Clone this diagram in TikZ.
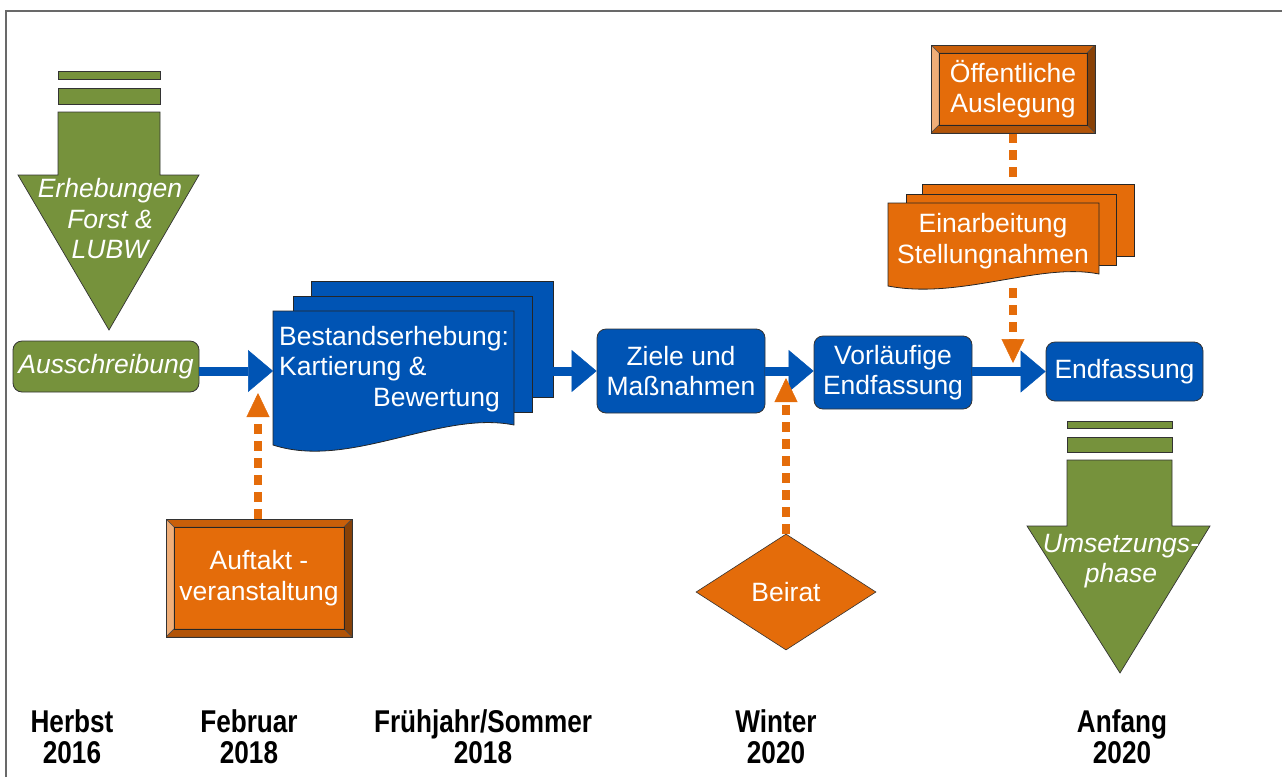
\documentclass[tikz,border=0pt]{standalone}
\usepackage{fontspec}
\setmainfont{Liberation Sans}
\newfontfamily\datefont{Liberation Sans}[FakeStretch=0.83]
\usetikzlibrary{shapes.geometric,arrows.meta,calc}
\definecolor{procblue}{RGB}{0,84,180}
\definecolor{phasegreen}{RGB}{118,146,60}
\definecolor{eventorange}{RGB}{228,108,10}
\definecolor{framegray}{RGB}{105,105,105}
\newcommand{\boxfont}{\fontsize{26.5}{30.5}\selectfont}

\begin{document}
\begin{tikzpicture}[
    x=1pt, y=-1pt,
    every node/.style={font=\boxfont, text=white},
    procbox/.style={rectangle, rounded corners=9pt, draw=black!80, line width=0.8pt, fill=procblue, align=center, inner sep=0pt},
    phasebox/.style={procbox, fill=phasegreen, font=\boxfont\itshape},
    docshape/.style={draw=black!85, line width=0.8pt, fill=#1},
    phaseshape/.style={draw=black!80, line width=0.7pt, fill=phasegreen},
    arrowtext/.style={font=\boxfont\itshape, align=center, inner sep=0pt},
    bevelbox/.style={rectangle, draw=black!80, line width=0.8pt, fill=eventorange, align=center, inner sep=0pt,
        path picture={
            \coordinate (bnw) at (path picture bounding box.north west);
            \coordinate (bne) at (path picture bounding box.north east);
            \coordinate (bsw) at (path picture bounding box.south west);
            \coordinate (bse) at (path picture bounding box.south east);
            \filldraw[draw=black!70, line width=0.5pt, fill=eventorange!88!black] (bnw) -- (bne) -- ($(bne)+(-8pt,-8pt)$) -- ($(bnw)+(8pt,-8pt)$) -- cycle;
            \filldraw[draw=black!70, line width=0.5pt, fill=eventorange!55!white] (bnw) -- (bsw) -- ($(bsw)+(8pt,8pt)$) -- ($(bnw)+(8pt,-8pt)$) -- cycle;
            \filldraw[draw=black!70, line width=0.5pt, fill=eventorange!60!black] (bne) -- (bse) -- ($(bse)+(-8pt,8pt)$) -- ($(bne)+(-8pt,-8pt)$) -- cycle;
            \filldraw[draw=black!70, line width=0.5pt, fill=eventorange!78!black] (bsw) -- (bse) -- ($(bse)+(-8pt,8pt)$) -- ($(bsw)+(8pt,8pt)$) -- cycle;
            \draw[black!85, line width=0.8pt] ($(bnw)+(8pt,-8pt)$) rectangle ($(bse)+(-8pt,8pt)$);
        }},
    flowarrow/.style={draw=procblue, line width=9pt, -{Triangle[length=25pt, width=42pt, line width=0.5pt, fill=procblue]}},
    eventline/.style={draw=eventorange, line width=8pt, dash pattern=on 10pt off 7pt},
    eventarrow/.style={eventline, -{Triangle[length=24pt, width=23pt, line width=0.5pt, fill=eventorange]}},
    datelabel/.style={text=black, font=\datefont\bfseries\fontsize{31.5}{31}\selectfont, align=center, inner sep=0pt}
]
\useasboundingbox (0,0) rectangle (1282,777);

% frame
\draw[framegray, line width=2pt] (6,777) -- (6,11) -- (1282,11);

% green phase arrows
\filldraw[phaseshape] (58,71) rectangle (160,79);
\filldraw[phaseshape] (58,88) rectangle (160,104);
\filldraw[phaseshape] (58,112) -- (160,112) -- (160,175) -- (199,175) -- (109,330) -- (18,175) -- (58,175) -- cycle;
\node[arrowtext] (erheb) at (110,219) {Erhebungen\\Forst \&\\LUBW};

\filldraw[phaseshape] (1067,421) rectangle (1172,428);
\filldraw[phaseshape] (1067,437) rectangle (1172,452);
\filldraw[phaseshape] (1067,460) -- (1172,460) -- (1172,526) -- (1210,526) -- (1120,673) -- (1027,526) -- (1067,526) -- cycle;
\node[arrowtext] (umsetz) at (1121,561) {Umsetzungs-\\phase};

% process boxes
\node[phasebox, minimum width=186pt, minimum height=51pt] (aussch) at (106,366.5) {Ausschreibung};
\node[procbox, minimum width=168pt, minimum height=84pt] (ziele) at (681,371) {Ziele und\\Maßnahmen};
\node[procbox, minimum width=158pt, minimum height=73pt] (vorl) at (893,372.5) {Vorläufige\\Endfassung};
\node[procbox, minimum width=157pt, minimum height=59pt] (endf) at (1124.5,371.5) {Endfassung};

% Bestandserhebung (multi document)
\filldraw[docshape=procblue] (311,281) rectangle (553,397);
\filldraw[docshape=procblue] (293,296) rectangle (532,412);
\filldraw[docshape=procblue] (273,311) -- (514,311) -- (514,425) .. controls (440,410) and (350,470) .. (273,445) -- cycle;
\node[anchor=west, align=left, inner sep=0pt] (bestand) at (279,369) {Bestandserhebung:\\Kartierung \&\\\hspace*{94pt}Bewertung};
\coordinate (bestWest) at (273,371);
\coordinate (bestEast) at (553,371);

% Einarbeitung (multi document)
\draw[eventline] (1013,133) -- (1013,184);
\filldraw[docshape=eventorange] (922,184) rectangle (1134,256);
\filldraw[docshape=eventorange] (906,194) rectangle (1116,265);
\filldraw[docshape=eventorange] (888,203) -- (1099,203) -- (1099,274) .. controls (1040,262) and (960,300) .. (888,286) -- cycle;
\node[align=center, inner sep=0pt] (einarb) at (993,241) {Einarbeitung\\Stellungnahmen};
\coordinate (einBot) at (1013,288);
\coordinate (einTip) at (1013,363);

% events
\node[bevelbox, minimum width=164pt, minimum height=88pt] (oeff) at (1013,89) {Öffentliche\\Auslegung};
\node[bevelbox, minimum width=186pt, minimum height=118pt] (auftakt) at (259,578) {Auftakt -\\veranstaltung};
\node[diamond, fill=eventorange, draw=black!80, line width=0.6pt, minimum width=180pt, minimum height=116pt, inner sep=0pt] (beirat) at (786,592) {Beirat};
\coordinate (kickTip) at (258,393);
\coordinate (beiratTip) at (786,378);

% flow
\draw[flowarrow] (aussch.east |- bestWest) -- (bestWest);
\draw[flowarrow] (bestEast) -- (ziele.west |- bestEast);
\draw[flowarrow] (ziele.east) -- (vorl.west |- ziele.east);
\draw[flowarrow] (vorl.east |- endf.west) -- (endf.west);

% event links
\draw[eventarrow] (auftakt.north -| kickTip) -- (kickTip);
\draw[eventarrow] (beirat.north) -- (beiratTip);
\draw[eventarrow] (einBot) -- (einTip);

% dates
\node[datelabel] (herbst) at (72,737) {Herbst\\2016};
\node[datelabel] (februar) at (249,737) {Februar\\2018};
\node[datelabel] (sommer) at (483,737) {Frühjahr/Sommer\\2018};
\node[datelabel] (winter) at (776,737) {Winter\\2020};
\node[datelabel] (anfang) at (1122,737) {Anfang\\2020};

\end{tikzpicture}
\end{document}
